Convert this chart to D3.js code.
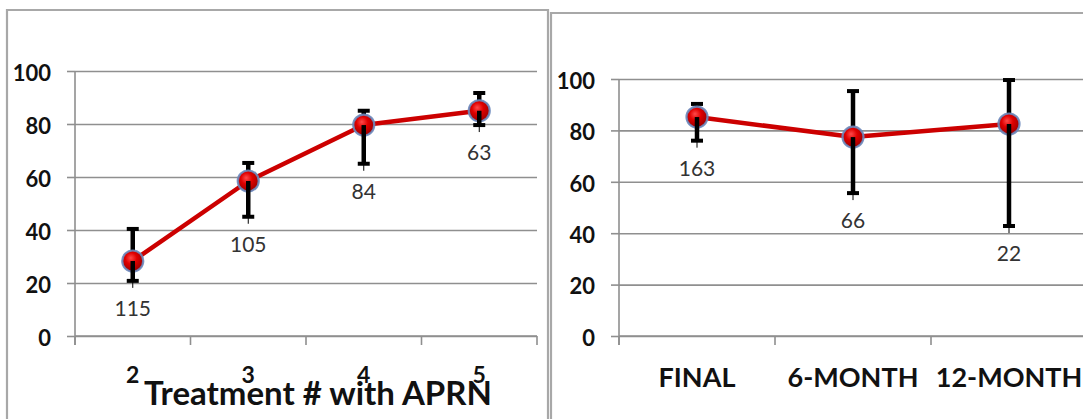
<!DOCTYPE html>
<html>
<head>
<meta charset="utf-8">
<script src="https://cdn.jsdelivr.net/npm/d3@7"></script>
<style>
  html, body { margin: 0; padding: 0; background: #fff; }
  svg { display: block; }
</style>
</head>
<body>
<svg id="chart" width="1083" height="419"></svg>
<script>
// ---------------- data ----------------
const yTicks = [0, 20, 40, 60, 80, 100];

const leftCategories = ["2", "3", "4", "5"];
const leftMeans = [28.3, 58.5, 79.6, 85.0];
const leftUpper = [40.4, 65.3, 85.0, 91.7];
const leftLower = [20.8, 45.0, 65.0, 79.6];
const leftN = [115, 105, 84, 63];
const leftTitle = "Treatment # with APRN";

const rightCategories = ["FINAL", "6-MONTH", "12-MONTH"];
const rightMeans = [85.2, 77.4, 82.5];
const rightUpper = [90.3, 95.3, 99.6];
const rightLower = [76.0, 55.6, 42.8];
const rightN = [163, 66, 22];

// ---------------- drawing ----------------
const svg = d3.select("#chart");
const FONT = "Lato, 'Open Sans', sans-serif";

const defs = svg.append("defs");
const grad = defs.append("radialGradient").attr("id", "ball")
  .attr("cx", "45%").attr("cy", "40%").attr("r", "60%").attr("fx", "40%").attr("fy", "35%");
grad.append("stop").attr("offset", "0%").attr("stop-color", "#ff4a4a");
grad.append("stop").attr("offset", "45%").attr("stop-color", "#e00000");
grad.append("stop").attr("offset", "100%").attr("stop-color", "#9a0000");

function panel(opts) {
  const g = svg.append("g");
  // frame
  g.append("path")
    .attr("d", opts.frame)
    .attr("fill", "none").attr("stroke", "#a8a8a8").attr("stroke-width", 2.2);

  const x = d3.scaleBand().domain(opts.categories).range([opts.x0, opts.x1]);
  const y = d3.scaleLinear().domain([0, 100]).range([opts.y0, opts.y1]);

  // gridlines
  g.append("g").attr("transform", `translate(${opts.x0},0)`)
    .call(d3.axisLeft(y).tickValues(yTicks).tickSize(-(opts.x1 - opts.x0)).tickFormat(""))
    .call(s => s.select(".domain").remove())
    .call(s => s.selectAll("line").attr("stroke", "#8f8f8f").attr("stroke-width", 1.6));

  // y axis with outside tick marks
  const ya = g.append("g").attr("transform", `translate(${opts.x0},0)`)
    .call(d3.axisLeft(y).tickValues(yTicks).tickSize(8).tickSizeOuter(0).tickPadding(16));
  ya.select(".domain").attr("stroke", "#8f8f8f").attr("stroke-width", 1.6)
    .attr("d", `M0,${opts.y0 + 9}V${opts.y1}`);
  ya.selectAll("line").attr("stroke", "#8f8f8f").attr("stroke-width", 1.6);
  ya.selectAll("text").attr("font-family", FONT).attr("font-weight", "bold")
    .attr("font-size", 22).attr("fill", "#111").attr("dy", "0.42em");

  // x axis with tick marks at category boundaries
  const xa = g.append("g").attr("transform", `translate(0,${opts.y0})`);
  xa.append("line").attr("x1", opts.x0).attr("x2", opts.x1)
    .attr("stroke", "#8f8f8f").attr("stroke-width", 1.6);
  const bounds = opts.categories.map(c => x(c)).concat([opts.x1]);
  xa.selectAll("line.tk").data(bounds).join("line").attr("class", "tk")
    .attr("x1", d => d).attr("x2", d => d).attr("y1", 0).attr("y2", 9)
    .attr("stroke", "#8f8f8f").attr("stroke-width", 1.6);
  xa.selectAll("text").data(opts.categories).join("text")
    .attr("x", d => x(d) + x.bandwidth() / 2)
    .attr("y", opts.xLabelBaseline - opts.y0)
    .attr("text-anchor", "middle")
    .attr("font-family", FONT).attr("font-weight", "bold")
    .attr("font-size", opts.xLabelSize).attr("fill", "#111")
    .text(d => d);

  const cx = d => x(d) + x.bandwidth() / 2;
  const pts = opts.categories.map((c, i) => ({
    c, m: opts.means[i], hi: opts.upper[i], lo: opts.lower[i], n: opts.n[i]
  }));

  // line
  g.append("path").datum(pts)
    .attr("d", d3.line().x(d => cx(d.c)).y(d => y(d.m)))
    .attr("fill", "none").attr("stroke", "#cc0000").attr("stroke-width", 4.5)
    .attr("stroke-linejoin", "round");

  // upper error bars (behind markers)
  const eb = g.append("g").attr("stroke", "#000");
  eb.selectAll("line.up").data(pts).join("line").attr("class", "up")
    .attr("x1", d => cx(d.c)).attr("x2", d => cx(d.c))
    .attr("y1", d => y(d.m)).attr("y2", d => y(d.hi)).attr("stroke-width", 4.5);
  eb.selectAll("line.capu").data(pts).join("line").attr("class", "capu")
    .attr("x1", d => cx(d.c) - 6).attr("x2", d => cx(d.c) + 6)
    .attr("y1", d => y(d.hi)).attr("y2", d => y(d.hi)).attr("stroke-width", 4);

  // markers
  g.selectAll("circle.m").data(pts).join("circle").attr("class", "m")
    .attr("cx", d => cx(d.c)).attr("cy", d => y(d.m)).attr("r", 10.5)
    .attr("fill", "url(#ball)").attr("stroke", "#6a88bd").attr("stroke-width", 2.2)
    .attr("stroke-opacity", 0.9);

  // lower error bars (over markers)
  const eb2 = g.append("g").attr("stroke", "#000");
  eb2.selectAll("line.dn").data(pts).join("line").attr("class", "dn")
    .attr("x1", d => cx(d.c)).attr("x2", d => cx(d.c))
    .attr("y1", d => y(d.m)).attr("y2", d => y(d.lo)).attr("stroke-width", 4.5);
  eb2.selectAll("line.capd").data(pts).join("line").attr("class", "capd")
    .attr("x1", d => cx(d.c) - 6).attr("x2", d => cx(d.c) + 6)
    .attr("y1", d => y(d.lo)).attr("y2", d => y(d.lo)).attr("stroke-width", 4);
  eb2.selectAll("line.tail").data(pts).join("line").attr("class", "tail")
    .attr("x1", d => cx(d.c)).attr("x2", d => cx(d.c))
    .attr("y1", d => y(d.lo)).attr("y2", d => y(d.lo) + 7).attr("stroke-width", 1);

  // data labels (n)
  g.selectAll("text.n").data(pts).join("text").attr("class", "n")
    .attr("x", d => cx(d.c)).attr("y", d => y(d.lo) + 35)
    .attr("text-anchor", "middle")
    .attr("font-family", FONT).attr("font-size", 21).attr("fill", "#333")
    .text(d => d.n);

  if (opts.title) {
    g.append("text").attr("x", opts.titleX).attr("y", opts.titleBaseline)
      .attr("text-anchor", "middle")
      .attr("font-family", FONT).attr("font-weight", "bold")
      .attr("font-size", 33).attr("fill", "#111")
      .text(opts.title);
  }
}

panel({
  frame: "M7,419V10H548V419",
  categories: leftCategories, means: leftMeans, upper: leftUpper, lower: leftLower, n: leftN,
  x0: 75, x1: 537, y0: 336, y1: 71,
  xLabelBaseline: 383, xLabelSize: 23,
  title: leftTitle, titleX: 318, titleBaseline: 405
});

panel({
  frame: "M551,419V13H1090",
  categories: rightCategories, means: rightMeans, upper: rightUpper, lower: rightLower, n: rightN,
  x0: 619, x1: 1087, y0: 336, y1: 79,
  xLabelBaseline: 387, xLabelSize: 27
});
</script>
</body>
</html>
